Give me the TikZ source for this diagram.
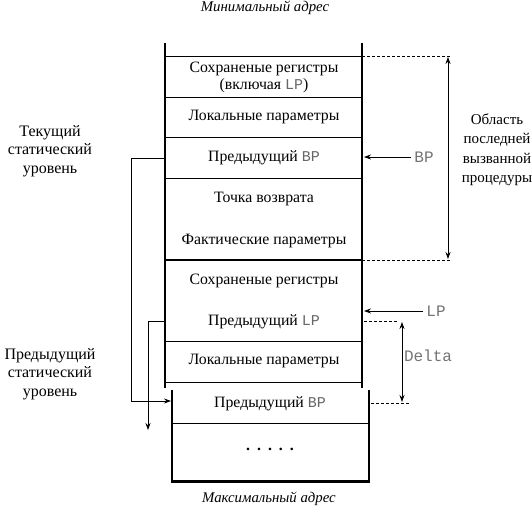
\documentclass[tikz,border=0pt]{standalone}
\usepackage{fontspec}
\setmainfont{Liberation Serif}
\setmonofont{Liberation Mono}
\usetikzlibrary{arrows.meta}
\newcommand{\mtt}[1]{{\fontsize{15}{17}\selectfont\ttfamily\color{black!60}#1}}
\begin{document}
\begin{tikzpicture}[x=1pt,y=-1pt,
  lbl/.style={font=\fontsize{15.8}{17}\selectfont, inner sep=0pt, align=center},
  side/.style={font=\fontsize{16}{18.5}\selectfont, inner sep=0pt, align=center},
  rside/.style={font=\fontsize{15}{19.5}\selectfont, inner sep=0pt, align=center},
  addr/.style={font=\fontsize{14.8}{15}\selectfont\itshape, inner sep=0pt},
  mono/.style={font=\fontsize{16}{18}\selectfont\ttfamily, text=black!55, inner sep=0pt},
  wall/.style={line width=1.8pt},
  sepline/.style={line width=0.8pt},
  bigsep/.style={line width=2.2pt},
  dline/.style={dash pattern=on 3pt off 2pt, line width=0.6pt},
  arr/.style={-{Stealth[length=7pt,width=5pt]}, line width=0.8pt},
  darr/.style={{Stealth[length=7pt,width=5pt]}-{Stealth[length=7pt,width=5pt]}, line width=0.8pt}
]
\useasboundingbox (0,0) rectangle (532,510);

% addresses
\node[addr] (minaddr) at (265,8) {Минимальный адрес};
\node[addr] (maxaddr) at (269,499) {Максимальный адрес};

% upper stack walls
\draw[wall] (165,43) -- (165,388);
\draw[wall] (362,43) -- (362,388);
\foreach \y in {56,97,137,178,341,382} \draw[sepline] (165,\y) -- (362,\y);
\draw[bigsep] (165,260) -- (362,260);

% lower stack
\draw[wall] (172,390) -- (172,481);
\draw[wall] (369,390) -- (369,481);
\draw[sepline] (172,423) -- (369,423);
\draw[line width=3pt] (171,481) -- (370,481);

% cell texts
\node[lbl] (c1) at (264,69) {Сохраненые регистры};
\node[lbl] (c1b) at (264,86) {(включая \mtt{LP})};
\node[lbl] (c2) at (264,117) {Локальные параметры};
\node[lbl] (c3) at (264,158) {Предыдущий \mtt{BP}};
\node[lbl] (c4) at (264,199) {Точка возврата};
\node[lbl] (c5) at (264,241) {Фактические параметры};
\node[lbl] (c6) at (264,281) {Сохраненые регистры};
\node[lbl] (c7) at (264,322) {Предыдущий \mtt{LP}};
\node[lbl] (c8) at (264,361) {Локальные параметры};
\node[lbl] (c9) at (270,404) {Предыдущий \mtt{BP}};
\node[lbl] (c10) at (270,449) {\bfseries .\hspace{7pt}.\hspace{7pt}.\hspace{7pt}.\hspace{7pt}.};

% side labels
\node[side] (cur) at (50,151) {Текущий\\статический\\уровень};
\node[side] (prev) at (50,374) {Предыдущий\\статический\\уровень};
\node[rside] (area) at (497,150) {Область\\последней\\вызванной\\процедуры};

% area brace
\coordinate (at) at (450,56);
\coordinate (ab) at (450,260);
\draw[dline] (362,56) -- (at);
\draw[dline] (362,260) -- (ab);
\draw[darr] (448,57) -- (448,259);

% BP pointer
\node[mono] (bp) at (424,157) {BP};
\draw[arr] (bp.west) ++(-3,0) -- (364,157);

% LP pointer
\node[mono] (lp) at (436,311) {LP};
\draw[arr] (lp.west) ++(-3,0) -- (364,311);

% Delta
\coordinate (dt) at (398,321);
\coordinate (db) at (410,403);
\draw[dline] (364,321) -- (dt);
\draw[dline] (371,403) -- (db);
\draw[darr] (402,322) -- (402,402);
\node[mono] (delta) at (428,356) {Delta};

% left connectors
\coordinate (bpfrom) at (165,158);
\coordinate (bpto) at (171,401);
\draw[arr] (bpfrom) -- (131,158) -- (131,401) -- (bpto);
\coordinate (lpfrom) at (165,321);
\coordinate (lpto) at (148,430);
\draw[arr] (lpfrom) -- (148,321) -- (lpto);
\end{tikzpicture}
\end{document}
